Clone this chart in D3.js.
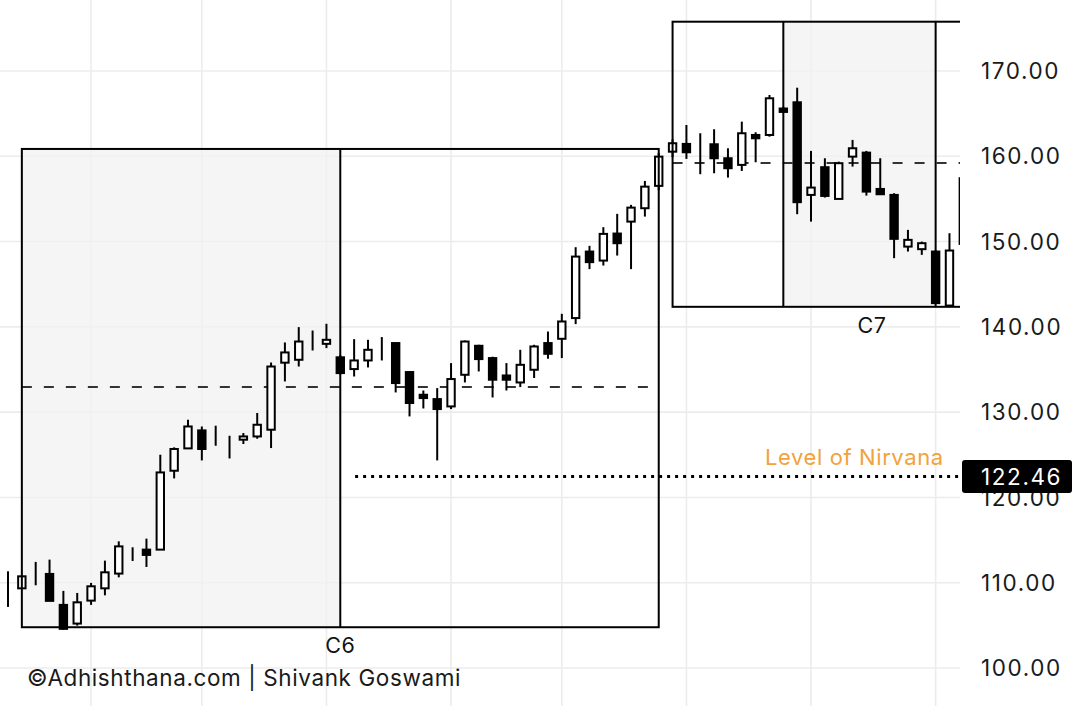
<!DOCTYPE html>
<html>
<head>
<meta charset="utf-8">
<script src="https://cdn.jsdelivr.net/npm/d3@7"></script>
<style>
  html, body { margin: 0; padding: 0; background: #ffffff; }
  svg { display: block; }
  text { font-family: Inter, "Noto Sans", Roboto, sans-serif; }
</style>
</head>
<body>
<div id="chart"></div>
<script>
// ---------- DATA ----------
const opens  = [109.86,109.34,110.4,111.03,107.4,105.21,107.9,109.34,111.07,114.1,113.88,113.88,123.13,125.75,127.86,127.2,126.41,126.77,127.15,127.94,135.8,136.14,138.48,138.01,136.43,135.05,136.06,137.81,138.1,134.7,132.04,131.53,130.67,134.38,137.78,136.34,134.3,133.48,134.97,138.1,138.6,141.03,148.83,147.77,150.94,152.34,153.91,156.53,160.54,161.45,161.53,161.41,159.77,158.99,162.5,162.5,165.6,166.33,155.47,158.72,155.0,159.96,160.43,156.17,155.47,149.41,149.11,148.83,142.5,149.73];
const highs  = [111.34,110.8,112.44,112.71,109.04,108.8,109.98,112.59,114.85,114.15,115.17,125.01,125.87,129.11,128.32,128.41,127.23,127.55,129.9,135.82,138.17,139.97,139.57,140.36,136.7,138.56,138.48,138.8,138.15,134.8,132.54,132.82,135.75,138.4,137.9,136.5,135.75,137.31,137.9,139.45,141.53,149.34,149.5,151.69,153.25,154.3,157.11,160.4,162.0,163.67,162.7,163.17,160.94,164.06,162.82,167.19,165.8,168.04,160.63,159.77,159.37,161.92,160.63,159.77,155.67,151.37,150.0,149.0,150.98,158.5];
const lows   = [107.16,109.3,109.7,107.87,104.5,104.97,107.4,108.52,110.63,112.55,111.85,113.85,122.23,125.7,124.34,126.06,124.57,126.26,126.88,125.79,133.6,135.35,137.23,137.51,134.4,134.18,135.24,136.06,132.31,129.5,130.43,124.34,130.36,133.48,134.77,131.72,132.54,132.94,134.0,136.26,136.34,140.32,146.77,147.19,148.36,146.77,152.93,156.0,159.9,159.69,157.9,158.01,157.5,158.28,159.3,162.3,165.1,153.21,152.34,155.16,155.0,158.79,155.39,155.47,148.05,148.83,148.44,142.7,142.4,149.0];
const closes = [109.86,110.75,110.4,107.87,104.59,107.7,109.58,111.22,114.26,114.1,113.26,122.93,125.68,128.32,125.68,127.2,126.41,127.15,128.52,135.35,137.0,138.28,138.48,138.48,134.58,136.06,137.31,137.81,133.41,131.07,131.65,130.36,133.88,138.28,136.22,133.8,133.8,135.55,137.7,136.84,140.63,148.24,147.59,150.9,149.81,153.98,156.44,159.96,161.53,160.47,161.53,159.77,158.6,162.7,162.11,166.8,165.2,154.62,156.33,155.35,159.19,160.94,155.86,155.55,150.32,150.2,149.81,142.78,148.95,157.43];

// vertical grid lines (candle index)
const vGridIdx = [6, 14, 23, 32, 40, 49, 58, 67];
// y-axis ticks
const yTicks = [100, 110, 120, 130, 140, 150, 160, 170];

// cycle boxes
const cycleNames   = ["C6", "C7"];
const cycleStart   = [1, 48];
const cycleEnd     = [47, 76.8];
const cycleTop     = [160.86, 175.78];
const cycleBottom  = [104.78, 142.35];
const cycleDivs    = [[24], [56, 67]];
const cycleShade   = [[1, 24], [56, 67]];
const cycleMid     = [132.95, 159.2];
const cycleLabelAt = [24, 62.4];

const nirvanaValue = 122.46;
const nirvanaStart = 25.07;
const nirvanaLabel = "Level of Nirvana";
const copyright = "©Adhishthana.com | Shivank Goswami";

// ---------- SETUP ----------
const W = 1082, H = 706;
const plotRight = 960;
const svg = d3.select("#chart").append("svg").attr("width", W).attr("height", H);

const x = d3.scaleLinear().domain([-0.578, 68.76]).range([0, plotRight]);
const y = d3.scaleLinear().domain([100, 170]).range([668, 71]);

svg.append("defs").append("clipPath").attr("id", "plotClip")
  .append("rect").attr("x", 0).attr("y", 0).attr("width", plotRight).attr("height", H);

const plot = svg.append("g").attr("clip-path", "url(#plotClip)");

// grid
const gridColor = "#ececec";
plot.append("g").selectAll("line").data(yTicks).join("line")
  .attr("x1", 0).attr("x2", plotRight)
  .attr("y1", d => y(d)).attr("y2", d => y(d))
  .attr("stroke", gridColor).attr("stroke-width", 1.6);
plot.append("g").selectAll("line").data(vGridIdx).join("line")
  .attr("x1", d => x(d)).attr("x2", d => x(d))
  .attr("y1", 0).attr("y2", H)
  .attr("stroke", gridColor).attr("stroke-width", 1.6);

// shaded regions
cycleNames.forEach((n, k) => {
  plot.append("rect")
    .attr("x", x(cycleShade[k][0])).attr("width", x(cycleShade[k][1]) - x(cycleShade[k][0]))
    .attr("y", y(cycleTop[k])).attr("height", y(cycleBottom[k]) - y(cycleTop[k]))
    .attr("fill", "#f2f2f2").attr("fill-opacity", 0.75);
});

// cycle mid dashed lines
cycleNames.forEach((n, k) => {
  plot.append("line")
    .attr("x1", x(cycleStart[k])).attr("x2", x(cycleEnd[k]))
    .attr("y1", y(cycleMid[k])).attr("y2", y(cycleMid[k]))
    .attr("stroke", "#333").attr("stroke-width", 2)
    .attr("stroke-dasharray", "10,12");
});

// nirvana dotted line
plot.append("line")
  .attr("x1", x(nirvanaStart)).attr("x2", plotRight)
  .attr("y1", y(nirvanaValue)).attr("y2", y(nirvanaValue))
  .attr("stroke", "#000").attr("stroke-width", 3)
  .attr("stroke-dasharray", "3,5");

// candles
const data = opens.map((o, i) => ({ i, o, h: highs[i], l: lows[i], c: closes[i] }));
const bodyW = 7.4;
const cg = plot.append("g");
cg.selectAll("line.wick").data(data).join("line").attr("class", "wick")
  .attr("x1", d => x(d.i)).attr("x2", d => x(d.i))
  .attr("y1", d => y(d.h)).attr("y2", d => y(d.l))
  .attr("stroke", "#000").attr("stroke-width", 2);
cg.selectAll("rect.body").data(data).join("rect").attr("class", "body")
  .attr("x", d => x(d.i) - bodyW / 2).attr("width", bodyW)
  .attr("y", d => y(Math.max(d.o, d.c)))
  .attr("height", d => Math.abs(y(d.o) - y(d.c)))
  .attr("fill", d => d.c >= d.o ? "#fff" : "#000")
  .attr("stroke", "#000").attr("stroke-width", 2);

// cycle boxes
cycleNames.forEach((n, k) => {
  plot.append("rect")
    .attr("x", x(cycleStart[k])).attr("width", x(cycleEnd[k]) - x(cycleStart[k]))
    .attr("y", y(cycleTop[k])).attr("height", y(cycleBottom[k]) - y(cycleTop[k]))
    .attr("fill", "none").attr("stroke", "#000").attr("stroke-width", 2);
  cycleDivs[k].forEach(di => {
    plot.append("line")
      .attr("x1", x(di)).attr("x2", x(di))
      .attr("y1", y(cycleTop[k])).attr("y2", y(cycleBottom[k]))
      .attr("stroke", "#000").attr("stroke-width", 2);
  });
  plot.append("text")
    .attr("x", x(cycleLabelAt[k])).attr("y", y(cycleBottom[k]) + 26)
    .attr("text-anchor", "middle")
    .attr("font-size", 21.5).attr("letter-spacing", 0.5).attr("fill", "#111")
    .text(n);
});

// nirvana label
svg.append("text")
  .attr("x", 765).attr("y", y(nirvanaValue) - 11)
  .attr("font-size", 22).attr("letter-spacing", 0.6).attr("fill", "#f2a23c")
  .text(nirvanaLabel);

// y axis labels
svg.append("g").selectAll("text").data(yTicks).join("text")
  .attr("x", 981).attr("y", d => y(d)).attr("dy", "0.36em")
  .attr("font-size", 22.5).attr("letter-spacing", 1.6).attr("fill", "#1a1a1a")
  .text(d => d3.format(".2f")(d));

// price tag
const tagY = y(nirvanaValue);
svg.append("rect")
  .attr("x", 962).attr("y", tagY - 16.5).attr("width", 110).attr("height", 33)
  .attr("rx", 3).attr("fill", "#000");
svg.append("text")
  .attr("x", 981).attr("y", tagY).attr("dy", "0.36em")
  .attr("font-size", 22.5).attr("letter-spacing", 1.6).attr("fill", "#fff")
  .text(d3.format(".2f")(nirvanaValue));

// copyright
svg.append("text")
  .attr("x", 27).attr("y", 686)
  .attr("font-size", 22.5).attr("letter-spacing", 0.6).attr("fill", "#1a1a1a")
  .text(copyright);
</script>
</body>
</html>
